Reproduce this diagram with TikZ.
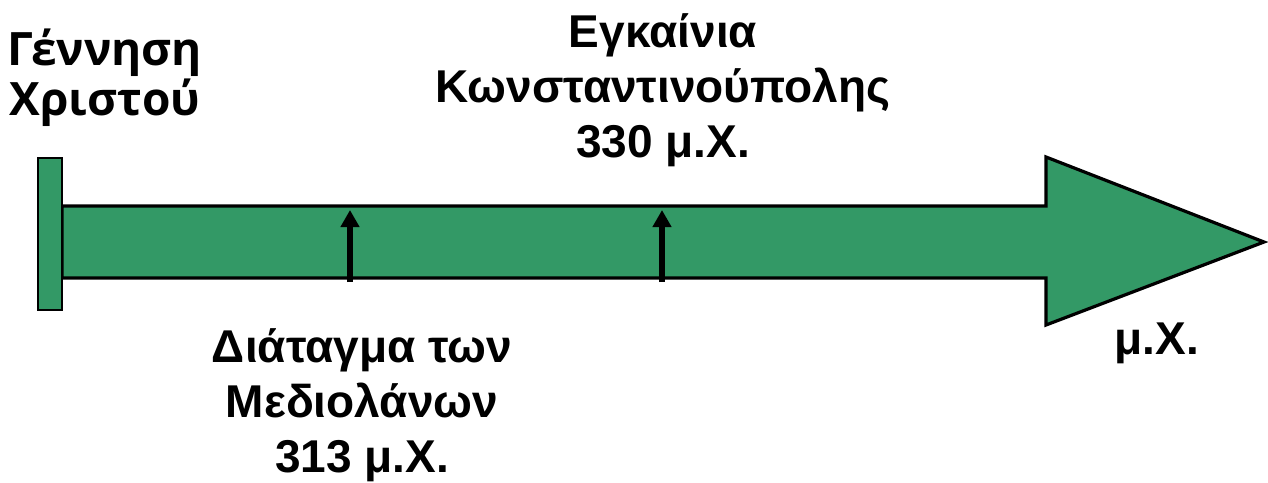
\documentclass[tikz,border=0pt]{standalone}
\usepackage{fontspec}
\setmainfont{Liberation Sans}
\newfontfamily\birthfont{Open Sans}
\usetikzlibrary{arrows.meta}
\definecolor{timegreen}{RGB}{51,153,102}

\begin{document}
\begin{tikzpicture}[x=0.5pt,y=-0.5pt,
  datelabel/.style={font=\bfseries\fontsize{23}{27.5}\selectfont, align=center, inner sep=0pt},
  tickarrow/.style={-{Triangle[length=8.5pt,width=9pt]}, line width=3pt}]
\useasboundingbox (0,0) rectangle (1268,482);
\coordinate (edict base) at (350, 282);
\coordinate (edict tip) at (350, 210);
\coordinate (city base) at (662, 282);
\coordinate (city tip) at (662, 210);

\draw [line width=1.6pt, fill=timegreen, line join=miter] (62, 206) -- (1046, 206) -- (1046, 157) -- (1264, 242) -- (1046, 325) -- (1046, 278) -- (62, 278) -- cycle;
\draw [line width=1pt, fill=timegreen] (38, 158) rectangle (62, 310);

\draw [tickarrow] (edict base) -- (edict tip);
\draw [tickarrow] (city base) -- (city tip);

\node [datelabel, font=\birthfont\bfseries\fontsize{23}{23.5}\selectfont] (birth) at (105, 78) {Γέννηση\\Χριστού};
\node [datelabel] (city) at (663, 90) {Εγκαίνια\\Κωνσταντινούπολης\\330 μ.Χ.};
\node [datelabel] (edict) at (362, 405) {Διάταγμα των\\Μεδιολάνων\\313 μ.Χ.};
\node [datelabel] (era) at (1157, 343) {μ.Χ.};

\end{tikzpicture}
\end{document}
